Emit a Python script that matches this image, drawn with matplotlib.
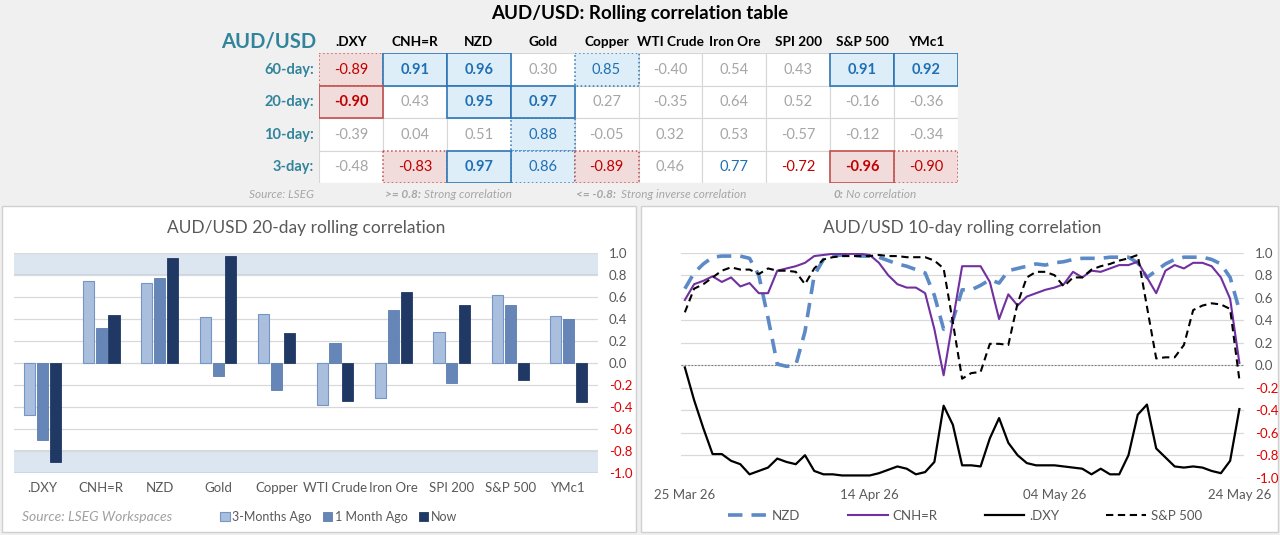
import matplotlib
matplotlib.use('Agg')
import matplotlib.pyplot as plt
from matplotlib.patches import Rectangle
import pandas as pd

plt.rcParams['font.family'] = ['Lato', 'DejaVu Sans']

# Correlation table
columns = ['.DXY', 'CNH=R', 'NZD', 'Gold', 'Copper', 'WTI Crude', 'Iron Ore', 'SPI 200', 'S&P 500', 'YMc1']
windows = ['60-day:', '20-day:', '10-day:', '3-day:']
corr_60d = [-0.89, 0.91, 0.96, 0.30, 0.85, -0.40, 0.54, 0.43, 0.91, 0.92]
corr_20d = [-0.90, 0.43, 0.95, 0.97, 0.27, -0.35, 0.64, 0.52, -0.16, -0.36]
corr_10d = [-0.39, 0.04, 0.51, 0.88, -0.05, 0.32, 0.53, -0.57, -0.12, -0.34]
corr_3d = [-0.48, -0.83, 0.97, 0.86, -0.89, 0.46, 0.77, -0.72, -0.96, -0.898]

# 20-day bars
bar_3m = [-0.48, 0.74, 0.72, 0.41, 0.44, -0.39, -0.32, 0.28, 0.61, 0.42]
bar_1m = [-0.70, 0.31, 0.77, -0.12, -0.25, 0.18, 0.48, -0.19, 0.52, 0.40]
bar_now = corr_20d

# 10-day rolling lines, daily
start_date, end_date = '2026-03-25', '2026-05-24'
nzd = [0.68, 0.82, 0.90, 0.96, 0.97, 0.97, 0.97, 0.95, 0.80, 0.42,
       0.01, -0.01, 0.00, 0.30, 0.80, 0.94, 0.97, 0.98, 0.98, 0.97,
       0.97, 0.96, 0.93, 0.90, 0.88, 0.85, 0.82, 0.62, 0.32, 0.40,
       0.67, 0.67, 0.71, 0.76, 0.73, 0.84, 0.86, 0.88, 0.90, 0.89,
       0.91, 0.92, 0.94, 0.95, 0.95, 0.95, 0.96, 0.96, 0.96, 0.91,
       0.78, 0.84, 0.90, 0.94, 0.96, 0.96, 0.96, 0.94, 0.90, 0.78, 0.49]
cnh = [0.58, 0.72, 0.75, 0.79, 0.74, 0.78, 0.70, 0.73, 0.64, 0.64,
       0.84, 0.86, 0.88, 0.91, 0.97, 0.98, 0.99, 0.99, 0.99, 0.99,
       0.98, 0.91, 0.80, 0.72, 0.69, 0.69, 0.64, 0.32, -0.09, 0.40,
       0.88, 0.88, 0.88, 0.74, 0.41, 0.63, 0.53, 0.61, 0.64, 0.67,
       0.69, 0.72, 0.83, 0.78, 0.84, 0.83, 0.86, 0.89, 0.89, 0.92,
       0.78, 0.64, 0.84, 0.89, 0.86, 0.91, 0.91, 0.88, 0.78, 0.59, 0.02]
dxy = [-0.02, -0.31, -0.56, -0.79, -0.79, -0.85, -0.88, -0.97, -0.94, -0.91,
       -0.83, -0.86, -0.88, -0.80, -0.94, -0.97, -0.97, -0.98, -0.98, -0.98,
       -0.98, -0.96, -0.93, -0.90, -0.92, -0.97, -0.95, -0.86, -0.36, -0.53,
       -0.89, -0.89, -0.90, -0.65, -0.47, -0.69, -0.80, -0.87, -0.89, -0.89,
       -0.89, -0.90, -0.91, -0.92, -0.97, -0.92, -0.97, -0.97, -0.80, -0.44,
       -0.35, -0.74, -0.82, -0.90, -0.91, -0.90, -0.91, -0.94, -0.96, -0.85, -0.39]
spx = [0.47, 0.68, 0.72, 0.78, 0.84, 0.87, 0.85, 0.85, 0.81, 0.86,
       0.84, 0.84, 0.83, 0.72, 0.86, 0.94, 0.96, 0.97, 0.97, 0.97,
       0.97, 0.98, 0.97, 0.97, 0.96, 0.96, 0.96, 0.93, 0.86, 0.38,
       -0.12, -0.07, -0.06, 0.19, 0.19, 0.18, 0.55, 0.78, 0.83, 0.83,
       0.80, 0.70, 0.78, 0.78, 0.85, 0.88, 0.90, 0.93, 0.95, 0.98,
       0.52, 0.06, 0.07, 0.07, 0.18, 0.49, 0.53, 0.55, 0.54, 0.50, -0.13]

W, H = 1280, 535
fig = plt.figure(figsize=(12.8, 5.35), dpi=100, facecolor='#f0f0f0')


def fx(px):
    return px / W


def fy(py):
    return 1 - py / H


GREY_TXT = '#595959'
TEAL = '#31849b'
BLUE_TXT = '#1f6fb5'
RED_TXT = '#c00000'

# white panels for the two charts
for x0, x1 in [(2, 636), (641, 1278)]:
    fig.patches.append(Rectangle((fx(x0), fy(532)), fx(x1 - x0), (532 - 206) / H,
                                 transform=fig.transFigure, facecolor='white',
                                 edgecolor='#d0d0d0', lw=1, zorder=-5))

# ---------------- table ----------------
fig.text(0.5, fy(14), 'AUD/USD: Rolling correlation table', ha='center', va='center',
         fontsize=13.5, fontweight='bold', color='black')

tab = fig.add_axes([fx(319), fy(183), fx(639), (183 - 53) / H])
tab.set_xlim(0, len(columns))
tab.set_ylim(len(windows), 0)
tab.axis('off')

rows = [corr_60d, corr_20d, corr_10d, corr_3d]
for r, vals in enumerate(rows):
    for c, v in enumerate(vals):
        tab.add_patch(Rectangle((c, r), 1, 1, facecolor='white', edgecolor='#d6d6d6', lw=0.8, zorder=1))

for r, vals in enumerate(rows):
    for c, v in enumerate(vals):
        a = abs(v)
        weight = 'normal'
        if a >= 0.8:
            pos = v > 0
            fill = '#ddeef8' if pos else '#f2dcdb'
            edge = '#2e75b6' if pos else '#c0504d'
            ls = '-' if a >= 0.9 else ':'
            lw = 1.2 if a >= 0.9 else 1.1
            col = BLUE_TXT if pos else RED_TXT
            if a >= 0.9:
                weight = 'bold'
            tab.add_patch(Rectangle((c, r), 1, 1, facecolor=fill, edgecolor=edge,
                                    lw=lw, ls=ls, zorder=3 if ls == '-' else 2))
        elif a >= 0.7:
            col = BLUE_TXT if v > 0 else RED_TXT
        else:
            col = '#a6a6a6'
        tab.text(c + 0.5, r + 0.52, f'{v:.2f}', ha='center', va='center', fontsize=10.5,
                 color=col, fontweight=weight, zorder=4)

for c, name in enumerate(columns):
    tab.text(c + 0.5, -0.33, name, ha='center', va='center', fontsize=9.8,
             fontweight='bold', color='black', clip_on=False)
for r, name in enumerate(windows):
    tab.text(-0.08, r + 0.52, name, ha='right', va='center', fontsize=10.5,
             fontweight='bold', color=TEAL, clip_on=False)
tab.text(-0.05, -0.36, 'AUD/USD', ha='right', va='center', fontsize=14.5,
         fontweight='bold', color=TEAL, clip_on=False)

note_y = fy(195)
fig.text(fx(249), note_y, 'Source: LSEG', fontsize=8.5, style='italic', color='#a6a6a6', va='center')
fig.text(fx(385), note_y, '>= 0.8:', fontsize=8.5, style='italic', fontweight='bold', color='#a6a6a6', va='center')
fig.text(fx(424), note_y, 'Strong correlation', fontsize=8.5, style='italic', color='#a6a6a6', va='center')
fig.text(fx(576), note_y, '<= -0.8:', fontsize=8.5, style='italic', fontweight='bold', color='#a6a6a6', va='center')
fig.text(fx(621), note_y, 'Strong inverse correlation', fontsize=8.5, style='italic', color='#a6a6a6', va='center')
fig.text(fx(833), note_y, '0:', fontsize=8.5, style='italic', fontweight='bold', color='#a6a6a6', va='center')
fig.text(fx(846), note_y, 'No correlation', fontsize=8.5, style='italic', color='#a6a6a6', va='center')


def style_axis(ax):
    for s in ax.spines.values():
        s.set_visible(False)
    ax.set_ylim(-1, 1)
    ax.set_yticks([i / 10 for i in range(-10, 11, 2)])
    ax.yaxis.tick_right()
    ax.tick_params(axis='both', length=0, labelsize=9.5, colors=GREY_TXT)
    ax.tick_params(axis='y', pad=8)
    ax.set_yticklabels([f'{t:.1f}' for t in ax.get_yticks()])
    for lab, t in zip(ax.get_yticklabels(), ax.get_yticks()):
        if t < -0.01:
            lab.set_color('#e00000')
    ax.grid(axis='y', color='#d9d9d9', lw=0.9)
    ax.set_axisbelow(True)
    ax.set_facecolor('none')


# ---------------- bar chart ----------------
bx = fig.add_axes([fx(13.5), fy(472.5), fx(584.5), (472.5 - 252.5) / H])
style_axis(bx)
bx.axhspan(0.8, 1.0, facecolor='#dce6f1', edgecolor='none', zorder=0)
bx.axhspan(-1.0, -0.8, facecolor='#dce6f1', edgecolor='none', zorder=0)
for yv in [1.0, 0.8, -0.8, -1.0]:
    bx.axhline(yv, color='#c6d5e8', lw=1.2, zorder=0.5)
xs = list(range(len(columns)))
bw = 0.19
b1 = bx.bar([x - 0.22 for x in xs], bar_3m, bw, color='#a9bfdd', edgecolor='#7595c6', lw=0.8, label='3-Months Ago', zorder=2)
b2 = bx.bar(xs, bar_1m, bw, color='#6686b8', edgecolor='#5b7cb0', lw=0.6, label='1 Month Ago', zorder=2)
b3 = bx.bar([x + 0.22 for x in xs], bar_now, bw, color='#1f3864', edgecolor='#1f3864', lw=0.6, label='Now', zorder=2)
bx.set_xlim(-0.5, len(columns) - 0.5)
bx.set_xticks(xs)
bx.set_xticklabels(columns, fontsize=9.5)
bx.tick_params(axis='x', pad=7)
bx.set_title('AUD/USD 20-day rolling correlation', fontsize=12.5, color=GREY_TXT, pad=14)

fig.text(fx(22), fy(517), 'Source: LSEG Workspaces', fontsize=10, style='italic', color='#a0a0a0', va='center')
fig.legend(handles=[b1, b2, b3], loc='center left', bbox_to_anchor=(fx(209), fy(517)), ncol=3,
           frameon=False, fontsize=9, handlelength=0.75, handleheight=0.75, handletextpad=0.2,
           columnspacing=0.9, labelcolor=GREY_TXT)

# ---------------- line chart ----------------
dates = pd.date_range(start_date, end_date, freq='D')
lx = fig.add_axes([fx(681), fy(477.7), fx(1244 - 681), (477.7 - 252.7) / H])
style_axis(lx)
lx.axhline(0, color='#7f7f7f', lw=0.8, ls=(0, (1.5, 1.5)), zorder=1)
l1, = lx.plot(dates, nzd, color='#5b8ac6', lw=2.6, ls=(0, (4, 2.5)), label='NZD', zorder=3)
l2, = lx.plot(dates, cnh, color='#7030a0', lw=1.5, label='CNH=R', zorder=4)
l3, = lx.plot(dates, dxy, color='black', lw=1.6, label='.DXY', zorder=4)
l4, = lx.plot(dates, spx, color='black', lw=1.5, ls=(0, (3.5, 2.2)), label='S&P 500', zorder=5)
lx.set_xlim(dates[0] - pd.Timedelta(hours=10), dates[-1] + pd.Timedelta(hours=12))
lx.set_xticks(dates[::20])
lx.set_xticklabels([d.strftime('%d %b %y') for d in dates[::20]], fontsize=9.5)
lx.tick_params(axis='x', pad=8)
lx.set_title('AUD/USD 10-day rolling correlation', fontsize=12.5, color=GREY_TXT, pad=14)

fig.legend(handles=[l1, l2, l3, l4], loc='center left', bbox_to_anchor=(fx(716), fy(516)), ncol=4,
           frameon=False, fontsize=9.5, handlelength=3.0, handletextpad=0.35,
           columnspacing=3.6, labelcolor=GREY_TXT)

fig.savefig('out.png', dpi=100, facecolor=fig.get_facecolor())
